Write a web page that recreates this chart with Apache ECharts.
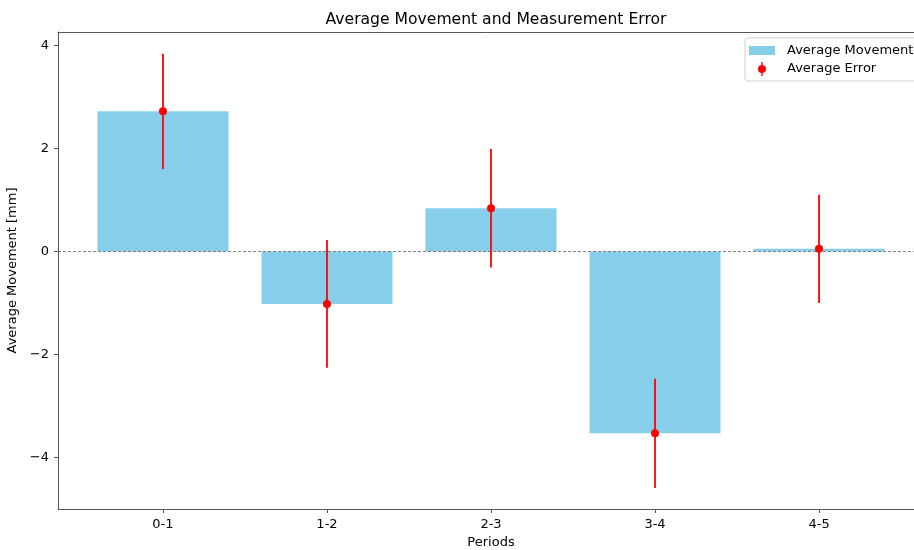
<!DOCTYPE html>
<html>
<head>
<meta charset="utf-8">
<script src="https://cdn.jsdelivr.net/npm/echarts@6/dist/echarts.min.js"></script>
<style>
  html, body { margin: 0; padding: 0; background: #fff; overflow: hidden; }
  #chart { width: 914px; height: 550px; }
</style>
</head>
<body>
<div id="chart"></div>
<script>
const PERIODS = ["0-1", "1-2", "2-3", "3-4", "4-5"];
const AVG_MOVEMENT = [2.72, -1.02, 0.84, -3.53, 0.05];
const AVG_ERROR = [1.12, 1.24, 1.15, 1.06, 1.05];
const Y_TICKS = [-4, -2, 0, 2, 4];
const X_TICKS = [0, 1, 2, 3, 4];

const FONT = "DejaVu Sans";
const SPINE = "#555";
const minus = (v) => (v < 0 ? "\u2212" + Math.abs(v) : String(v));

const chart = echarts.init(document.getElementById("chart"), null, { renderer: "canvas" });

chart.setOption({
  animation: false,
  textStyle: { fontFamily: FONT },
  title: {
    text: "Average Movement and Measurement Error",
    left: 491,
    textAlign: "center",
    top: 7,
    textStyle: { fontFamily: FONT, fontSize: 15.6, fontWeight: "normal", color: "#000" }
  },
  legend: {
    orient: "vertical",
    left: 745,
    top: 38,
    padding: [6, 30, 5, 4],
    itemGap: 5,
    itemWidth: 26,
    itemHeight: 14,
    backgroundColor: "rgba(255,255,255,0.8)",
    borderColor: "#d0d0d0",
    borderWidth: 1,
    borderRadius: 3,
    selectedMode: false,
    textStyle: { fontFamily: FONT, fontSize: 13, color: "#000", padding: [0, 0, 0, 7] },
    data: [
      { name: "Average Movement", icon: "path://M0,0h26v9h-26z", itemStyle: { color: "#87CEEB" } },
      {
        name: "Average Error",
        icon: "path://M3.3,0h1.4v14h-1.4z M4,3A4,4 0 1 1 3.999,3Z",
        itemStyle: { color: "#ff0000" }
      }
    ]
  },
  grid: {
    left: 58,
    right: -10,
    top: 32,
    bottom: 41,
    containLabel: false,
    outerBoundsMode: "none"
  },
  xAxis: [
    {
      type: "value",
      min: -0.64,
      max: 4.64,
      name: "Periods",
      nameLocation: "middle",
      nameGap: 27,
      nameTextStyle: { fontFamily: FONT, fontSize: 13, color: "#000" },
      splitLine: { show: false },
      axisLine: { show: true, onZero: false, lineStyle: { color: SPINE, width: 1 } },
      axisTick: { show: true, length: 4, lineStyle: { color: SPINE }, customValues: X_TICKS },
      axisLabel: {
        margin: 9,
        fontFamily: FONT,
        fontSize: 13,
        color: "#000",
        customValues: X_TICKS,
        formatter: (v) => PERIODS[Math.round(v)] ?? ""
      }
    },
    {
      // top spine only
      type: "value",
      position: "top",
      min: -0.64,
      max: 4.64,
      splitLine: { show: false },
      axisLine: { show: true, onZero: false, lineStyle: { color: SPINE, width: 1 } },
      axisTick: { show: false },
      axisLabel: { show: false }
    }
  ],
  yAxis: {
    type: "value",
    min: -5.0,
    max: 4.26,
    name: "Average Movement [mm]",
    nameLocation: "middle",
    nameGap: 34,
    nameRotate: 90,
    nameTextStyle: { fontFamily: FONT, fontSize: 13, color: "#000" },
    splitLine: { show: false },
    axisLine: { show: true, onZero: false, lineStyle: { color: SPINE, width: 1 } },
    axisTick: { show: true, length: 4, lineStyle: { color: SPINE }, customValues: Y_TICKS },
    axisLabel: {
      margin: 9,
      fontFamily: FONT,
      fontSize: 13,
      color: "#000",
      customValues: Y_TICKS,
      formatter: minus
    }
  },
  series: [
    {
      name: "Average Movement",
      type: "bar",
      barWidth: 131,
      itemStyle: { color: "#87CEEB" },
      data: AVG_MOVEMENT.map((v, i) => [i, v]),
      markLine: {
        silent: true,
        symbol: "none",
        z: 5,
        label: { show: false },
        lineStyle: { color: "#808080", type: [3, 2], width: 1 },
        data: [{ yAxis: 0 }]
      }
    },
    {
      name: "Average Error",
      type: "custom",
      z: 6,
      itemStyle: { color: "#ff0000" },
      data: AVG_MOVEMENT.map((v, i) => [i, v - AVG_ERROR[i], v + AVG_ERROR[i]]),
      renderItem: (params, api) => {
        const lo = api.coord([api.value(0), api.value(1)]);
        const hi = api.coord([api.value(0), api.value(2)]);
        return {
          type: "line",
          shape: { x1: lo[0], y1: lo[1], x2: hi[0], y2: hi[1] },
          style: { stroke: "#ff0000", lineWidth: 1.8 }
        };
      }
    },
    {
      name: "Average Error",
      type: "scatter",
      z: 7,
      symbol: "circle",
      symbolSize: 8,
      itemStyle: { color: "#ff0000", opacity: 1 },
      data: AVG_MOVEMENT.map((v, i) => [i, v])
    }
  ]
});
</script>
</body>
</html>
